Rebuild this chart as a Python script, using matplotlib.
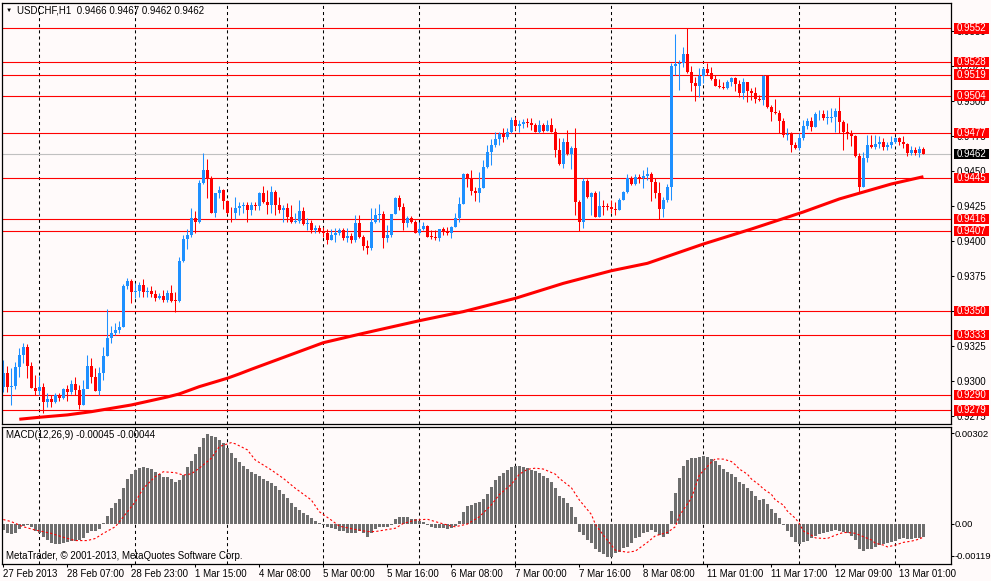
import matplotlib
matplotlib.use('Agg')
import matplotlib.pyplot as plt
import matplotlib.transforms as mtransforms
from matplotlib.patches import Rectangle
import numpy as np

plt.rcParams['font.family'] = ['Liberation Sans', 'DejaVu Sans']
plt.rcParams['lines.scale_dashes'] = False

# ---------------- data ----------------
symbol_header = "USDCHF,H1  0.9466 0.9467 0.9462 0.9462"
first_open = 0.92960
closes = [
 0.93060,0.92960,0.92965,0.93103,0.93189,0.93246,0.93108,0.92953,0.92932,0.92958,
 0.92853,0.92870,0.92853,0.92898,0.92882,0.92944,0.92924,0.92979,0.92936,0.92829,
 0.92941,0.93108,0.93032,0.92932,0.93060,0.93179,0.93310,0.93346,0.93367,0.93389,
 0.93682,0.93715,0.93636,0.93643,0.93686,0.93639,0.93643,0.93622,0.93596,0.93608,
 0.93579,0.93632,0.93574,0.93570,0.93858,0.94013,0.94046,0.94163,0.94139,0.94412,
 0.94508,0.94448,0.94203,0.94341,0.94365,0.94289,0.94203,0.94198,0.94239,0.94253,
 0.94258,0.94222,0.94258,0.94253,0.94341,0.94282,0.94258,0.94353,0.94260,0.94222,
 0.94234,0.94174,0.94139,0.94146,0.94215,0.94122,0.94132,0.94079,0.94096,0.94063,
 0.94055,0.94008,0.94043,0.94060,0.94079,0.94022,0.94036,0.94008,0.94127,0.94027,
 0.93965,0.93948,0.94139,0.94186,0.94193,0.94024,0.94043,0.94193,0.94308,0.94246,
 0.94132,0.94162,0.94139,0.94060,0.94084,0.94108,0.94032,0.94027,0.94024,0.94086,
 0.94067,0.94055,0.94098,0.94162,0.94262,0.94479,0.94448,0.94360,0.94345,0.94376,
 0.94531,0.94636,0.94686,0.94729,0.94765,0.94746,0.94781,0.94865,0.94824,0.94836,
 0.94850,0.94846,0.94829,0.94781,0.94827,0.94789,0.94829,0.94781,0.94650,0.94550,
 0.94707,0.94622,0.94667,0.94281,0.94139,0.94429,0.94312,0.94341,0.94174,0.94253,
 0.94246,0.94243,0.94229,0.94222,0.94293,0.94350,0.94448,0.94408,0.94460,0.94448,
 0.94467,0.94481,0.94424,0.94345,0.94229,0.94293,0.94384,0.95250,0.95262,0.95269,
 0.95336,0.95210,0.95131,0.95108,0.95179,0.95229,0.95198,0.95155,0.95108,0.95103,
 0.95091,0.95139,0.95162,0.95119,0.95060,0.95134,0.95074,0.95055,0.95012,0.95008,
 0.95179,0.94955,0.94924,0.94912,0.94860,0.94758,0.94765,0.94686,0.94662,0.94734,
 0.94824,0.94857,0.94812,0.94905,0.94908,0.94877,0.94879,0.94889,0.94929,0.94853,
 0.94781,0.94769,0.94753,0.94608,0.94389,0.94596,0.94686,0.94674,0.94693,0.94705,
 0.94674,0.94684,0.94707,0.94734,0.94707,0.94693,0.94631,0.94650,0.94627,0.94660,
 0.94620]
highs = [
 0.93151,0.93108,0.93091,0.93139,0.93234,0.93270,0.93263,0.93139,0.93043,0.93036,
 0.92984,0.92913,0.92901,0.92917,0.92913,0.92953,0.92972,0.93008,0.93032,0.92972,
 0.93008,0.93186,0.93163,0.93091,0.93098,0.93246,0.93512,0.93394,0.93412,0.93432,
 0.93691,0.93739,0.93729,0.93698,0.93710,0.93729,0.93674,0.93679,0.93651,0.93627,
 0.93651,0.93651,0.93686,0.93639,0.93889,0.94043,0.94086,0.94234,0.94215,0.94436,
 0.94627,0.94586,0.94465,0.94346,0.94394,0.94370,0.94294,0.94246,0.94317,0.94282,
 0.94282,0.94282,0.94282,0.94282,0.94353,0.94393,0.94365,0.94393,0.94365,0.94317,
 0.94258,0.94270,0.94258,0.94198,0.94294,0.94246,0.94162,0.94151,0.94115,0.94115,
 0.94103,0.94084,0.94084,0.94091,0.94091,0.94091,0.94091,0.94055,0.94186,0.94186,
 0.94043,0.94008,0.94234,0.94234,0.94265,0.94215,0.94115,0.94193,0.94317,0.94329,
 0.94270,0.94179,0.94179,0.94151,0.94139,0.94139,0.94115,0.94079,0.94079,0.94086,
 0.94103,0.94103,0.94108,0.94198,0.94317,0.94489,0.94485,0.94507,0.94389,0.94496,
 0.94579,0.94686,0.94727,0.94781,0.94781,0.94805,0.94805,0.94884,0.94889,0.94865,
 0.94869,0.94877,0.94877,0.94841,0.94865,0.94841,0.94865,0.94877,0.94805,0.94734,
 0.94734,0.94793,0.94679,0.94805,0.94293,0.94448,0.94441,0.94353,0.94358,0.94358,
 0.94293,0.94274,0.94293,0.94281,0.94305,0.94360,0.94479,0.94465,0.94477,0.94479,
 0.94507,0.94531,0.94496,0.94448,0.94424,0.94317,0.94408,0.95274,0.95479,0.95293,
 0.95389,0.95519,0.95250,0.95169,0.95234,0.95246,0.95274,0.95246,0.95186,0.95155,
 0.95139,0.95150,0.95169,0.95169,0.95150,0.95162,0.95139,0.95091,0.95103,0.95043,
 0.95186,0.95174,0.94972,0.95012,0.94936,0.94877,0.94805,0.94781,0.94710,0.94769,
 0.94865,0.94881,0.94889,0.94924,0.94936,0.94936,0.94936,0.94948,0.94948,0.95031,
 0.94865,0.94846,0.94793,0.94758,0.94631,0.94639,0.94758,0.94758,0.94758,0.94750,
 0.94734,0.94710,0.94750,0.94741,0.94746,0.94750,0.94698,0.94679,0.94669,0.94679,
 0.94670]
lows = [
 0.92924,0.92924,0.92829,0.92941,0.93032,0.93127,0.93020,0.92948,0.92901,0.92901,
 0.92774,0.92813,0.92813,0.92841,0.92860,0.92870,0.92860,0.92908,0.92901,0.92800,
 0.92829,0.92984,0.92984,0.92932,0.92901,0.93008,0.93179,0.93270,0.93329,0.93341,
 0.93384,0.93655,0.93555,0.93591,0.93603,0.93603,0.93598,0.93603,0.93574,0.93584,
 0.93567,0.93567,0.93567,0.93496,0.93565,0.93853,0.93941,0.94027,0.94060,0.94127,
 0.94408,0.94305,0.94198,0.94174,0.94305,0.94227,0.94193,0.94139,0.94155,0.94186,
 0.94198,0.94139,0.94186,0.94222,0.94222,0.94274,0.94193,0.94198,0.94186,0.94198,
 0.94139,0.94139,0.94132,0.94127,0.94127,0.94115,0.94079,0.94055,0.94055,0.94055,
 0.94032,0.93980,0.94008,0.93996,0.94043,0.94008,0.93996,0.93984,0.93996,0.94020,
 0.93936,0.93908,0.93936,0.94132,0.94139,0.93953,0.93996,0.94027,0.94193,0.94222,
 0.94079,0.94103,0.94132,0.94055,0.94043,0.94079,0.94032,0.94012,0.94008,0.94003,
 0.94043,0.94043,0.94020,0.94098,0.94139,0.94262,0.94389,0.94329,0.94289,0.94281,
 0.94376,0.94519,0.94543,0.94669,0.94686,0.94710,0.94729,0.94774,0.94793,0.94781,
 0.94805,0.94812,0.94793,0.94777,0.94774,0.94781,0.94789,0.94781,0.94603,0.94543,
 0.94519,0.94615,0.94512,0.94186,0.94074,0.94091,0.94305,0.94186,0.94174,0.94174,
 0.94186,0.94222,0.94198,0.94186,0.94222,0.94293,0.94341,0.94400,0.94400,0.94412,
 0.94376,0.94436,0.94289,0.94305,0.94158,0.94174,0.94281,0.94293,0.95186,0.95079,
 0.95246,0.95203,0.95074,0.95003,0.95031,0.95127,0.95186,0.95150,0.95108,0.95096,
 0.95086,0.95084,0.95110,0.95074,0.95026,0.95012,0.94996,0.95008,0.94989,0.95003,
 0.94972,0.94948,0.94860,0.94908,0.94769,0.94746,0.94722,0.94639,0.94658,0.94650,
 0.94722,0.94798,0.94789,0.94812,0.94865,0.94865,0.94836,0.94853,0.94781,0.94769,
 0.94650,0.94727,0.94679,0.94603,0.94341,0.94389,0.94567,0.94662,0.94658,0.94662,
 0.94650,0.94650,0.94662,0.94698,0.94686,0.94662,0.94608,0.94615,0.94615,0.94603,
 0.94620]

# moving average read at sample bars
ma_idx = [4, 9, 16, 22, 32, 41, 44, 49, 56, 59, 62, 80, 90, 104, 115, 128, 140,
          152, 161, 175, 187, 200, 209, 222, 230]
ma_val = [0.92727, 0.92741, 0.92758, 0.92781, 0.92829, 0.92886, 0.92908, 0.92960,
          0.93020, 0.93051, 0.93084, 0.93274, 0.93341, 0.93431, 0.93496, 0.93591,
          0.93698, 0.93788, 0.93841, 0.93979, 0.94086, 0.94208, 0.94301, 0.94408,
          0.94460]

# horizontal levels
levels = [0.9552, 0.9528, 0.9519, 0.9504, 0.9477, 0.9445, 0.9416, 0.9407,
          0.9350, 0.9333, 0.9290, 0.9279]
price_ticks = [0.9275, 0.9300, 0.9325, 0.9350, 0.9375, 0.9400, 0.9425, 0.9450,
               0.9475, 0.9500, 0.9525, 0.9550]

# MACD histogram (x 1e-5)
macd_hist = [
 -21,-30,-34,-32,-19,-8,-4,-12,-23,-32,
 -45,-54,-65,-68,-68,-63,-61,-57,-57,-54,
 -49,-30,-23,-25,-19,2,26,51,68,82,
 118,149,166,179,185,188,187,181,173,166,
 157,155,148,140,146,162,188,210,231,257,
 285,298,293,288,279,270,251,237,218,207,
 192,181,173,166,159,148,142,137,127,112,
 99,85,70,57,46,37,29,18,10,3,
 -4,-12,-15,-19,-23,-23,-30,-32,-30,-23,
 -32,-43,-32,-19,-12,-10,-12,-4,15,23,
 23,21,16,15,10,7,-4,-10,-14,-15,
 -15,-19,-15,-8,10,40,59,62,68,73,
 81,100,122,145,160,168,179,189,192,192,
 190,185,179,176,168,160,153,140,120,93,
 85,68,57,21,-27,-38,-54,-65,-84,-95,
 -102,-110,-110,-99,-95,-82,-77,-65,-49,-43,
 -32,-27,-21,-27,-38,-43,-35,42,101,153,
 193,213,218,218,222,226,223,215,209,196,
 182,171,166,157,140,131,120,109,93,79,
 82,66,49,35,18,-4,-24,-43,-60,-68,
 -62,-58,-49,-40,-35,-32,-29,-24,-21,-24,
 -29,-32,-40,-54,-84,-91,-85,-84,-77,-71,
 -69,-65,-60,-58,-51,-49,-51,-50,-48,-47,
 -45]
sig_idx = [0, 2, 5, 8, 12, 15, 18, 21, 23, 25, 28, 30, 33, 35, 38, 40, 43, 45, 47,
           49, 52, 54, 57, 58, 61, 63, 67, 70, 73, 77, 79, 82, 84, 88, 91, 93, 98,
           100, 103, 106, 108, 112, 113, 116, 119, 122, 124, 127, 129, 131, 133,
           135, 138, 139, 142, 144, 147, 148, 150, 152, 153, 156, 158, 161, 163,
           166, 168, 169, 172, 174, 177, 178, 180, 182, 183, 184, 186, 187, 189,
           190, 192, 193, 195, 196, 198, 199, 200, 202, 203, 205, 206, 208, 210,
           212, 213, 215, 217, 218, 220, 221, 223, 225, 227, 229, 230]
sig_val = [14, 7, -10, -21, -32, -45, -56, -56, -49, -32, -10, 23, 73, 118, 157,
           173, 170, 162, 166, 185, 218, 257, 270, 266, 246, 212, 179, 151, 118,
           79, 40, 12, -8, -19, -26, -26, -15, 1, 12, 15, 7, -8, -10, -1, 23, 63,
           97, 131, 165, 181, 185, 182, 165, 151, 120, 79, 31, -2, -38, -71, -88,
           -95, -91, -62, -40, -29, -10, 27, 85, 162, 205, 216, 215, 207, 196, 182,
           165, 149, 129, 116, 98, 79, 62, 42, 18, 1, -24, -38, -47, -49, -49, -38,
           -29, -30, -32, -43, -54, -65, -71, -77, -71, -62, -58, -51, -44]
macd_header = "MACD(12,26,9) -0.00045 -0.00044"
copyright_txt = "MetaTrader, \u00a9 2001-2013, MetaQuotes Software Corp."
macd_ticks = [0.00302, 0.0, -0.00107]
macd_tick_labels = ["0.00302", "0.00", "-0.00119"]

day_start_idx = [9, 33, 56, 80, 104, 128, 152, 175, 199, 223]
label_idx = [0, 16, 32, 48, 64, 80, 96, 112, 128, 144, 160, 176, 192, 208, 224]
label_txt = ["27 Feb 2013", "28 Feb 07:00", "28 Feb 23:00", "1 Mar 15:00",
             "4 Mar 08:00", "5 Mar 00:00", "5 Mar 16:00", "6 Mar 08:00",
             "7 Mar 00:00", "7 Mar 16:00", "8 Mar 08:00", "11 Mar 01:00",
             "11 Mar 17:00", "12 Mar 09:00", "13 Mar 01:00"]

# ---------------- style ----------------
BG = '#FFFAFA'
UP = '#1E90FF'
DN = '#FF0000'
HIST = '#6E6E6E'
W, H = 991, 581
FS = 7

fig = plt.figure(figsize=(W / 100, H / 100), dpi=100, facecolor=BG)


def px_axes(l, t, r, b):
    a = fig.add_axes([l / W, 1 - b / H, (r - l) / W, (b - t) / H])
    a.set_facecolor(BG)
    for s in a.spines.values():
        s.set_color('black')
        s.set_linewidth(0.9)
    return a


ax = px_axes(2, 3, 951, 424)
axm = px_axes(2, 427, 951, 564)

n = len(closes)
idx = np.arange(n)
c = np.array(closes)
o = np.array([first_open] + closes[:-1])
hi = np.array(highs)
lo = np.array(lows)
cols = np.where(c >= o, UP, DN)

for d in day_start_idx:
    for a in (ax, axm):
        a.axvline(d, color='black', lw=0.75, dashes=(2.2, 2.2), zorder=1)

for lv in levels:
    ax.axhline(lv, color='#FF0000', lw=0.8, zorder=1.2)
ax.axhline(closes[-1], color='#C0C0C0', lw=0.8, zorder=1.1)

ax.vlines(idx, lo, hi, colors=cols, lw=0.75, zorder=2)
ax.bar(idx, np.maximum(np.abs(c - o), 0.00006), width=0.72,
       bottom=np.minimum(o, c), color=cols, linewidth=0, zorder=2.2)
ax.plot(ma_idx, ma_val, color='#FF0000', lw=2.2, zorder=3,
        solid_capstyle='butt')

ax.set_xlim(-0.325, 236.9)
ax.set_ylim(0.92693, 0.95701)
ax.yaxis.tick_right()
ax.set_yticks(price_ticks)
ax.set_yticklabels(['%.4f' % t for t in price_ticks])
ax.set_xticks([])
ax.tick_params(axis='y', length=2.2, width=0.75, pad=1.5, labelsize=FS,
               direction='out', colors='black')

btr = mtransforms.blended_transform_factory(ax.transAxes, ax.transData)
aw = 949.0
for lv, fc in [(l, '#FF0000') for l in levels] + [(closes[-1], 'black')]:
    ax.add_patch(Rectangle((1 + 3 / aw, lv - 0.00037), 35 / aw, 0.00074,
                           transform=btr, facecolor=fc, edgecolor='none',
                           clip_on=False, zorder=6))
    ax.text(1 + 6 / aw, lv, '%.4f' % lv, transform=btr, ha='left',
            va='center', color='white', fontsize=FS, clip_on=False, zorder=7)

# header texts
fig.text(6 / W, 1 - 10.5 / H, '\u25bc', fontsize=4.5, va='center', ha='left')
fig.text(17 / W, 1 - 10.5 / H, symbol_header, fontsize=FS, va='center', ha='left')

# MACD panel
hv = np.array(macd_hist) * 1e-5
axm.bar(idx, hv, width=0.72, color=HIST, linewidth=0, zorder=2)
axm.plot(sig_idx, np.array(sig_val) * 1e-5, color='#FF0000', lw=0.8,
         dashes=(1.6, 1.6), zorder=3)
axm.set_xlim(-0.325, 236.9)
axm.set_ylim(-0.00134, 0.00322)
axm.yaxis.tick_right()
axm.set_yticks(macd_ticks)
axm.set_yticklabels(macd_tick_labels)
axm.set_xticks(label_idx)
axm.set_xticklabels(label_txt)
for lab in axm.get_xticklabels():
    lab.set_ha('left')
axm.tick_params(axis='x', length=2.2, width=0.75, pad=1.5, labelsize=FS,
                direction='out', colors='black')
axm.tick_params(axis='y', length=2.2, width=0.75, pad=0.6, labelsize=6.8,
                direction='out', colors='black')

fig.text(6 / W, 1 - 435.5 / H, macd_header, fontsize=FS, va='center', ha='left')
fig.text(6 / W, 1 - 556 / H, copyright_txt, fontsize=FS, va='center', ha='left')

fig.savefig('out.png', dpi=100, facecolor=BG)
